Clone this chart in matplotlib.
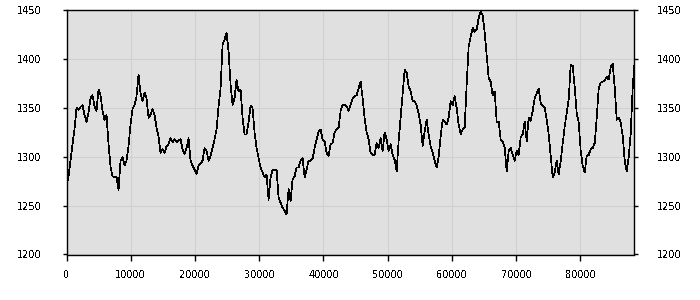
import numpy as np
import matplotlib
matplotlib.use("Agg")
import matplotlib.pyplot as plt

# sample spacing along the x axis (data units)
STEP = 311.5

values = [
    1269, 1280, 1296, 1313, 1328, 1350, 1348, 1351, 1353, 1343,
    1336, 1345, 1360, 1363, 1352, 1347, 1369, 1363, 1347, 1338,
    1343, 1313, 1290, 1280, 1279, 1280, 1266, 1296, 1300, 1291,
    1296, 1311, 1333, 1349, 1353, 1362, 1384, 1365, 1357, 1366,
    1360, 1340, 1343, 1349, 1343, 1330, 1321, 1304, 1308, 1304,
    1311, 1313, 1319, 1315, 1318, 1315, 1317, 1318, 1308, 1303,
    1309, 1319, 1296, 1291, 1287, 1282, 1291, 1293, 1296, 1309,
    1306, 1296,
    1301, 1309, 1318, 1328, 1352, 1370, 1415, 1420, 1427, 1408,
    1374, 1353, 1360, 1379, 1367, 1369, 1340, 1323, 1323, 1336,
    1352, 1350, 1325, 1309, 1299, 1289, 1284, 1279, 1282, 1256,
    1279, 1287, 1286, 1287, 1258, 1253, 1248, 1245, 1241, 1267,
    1255, 1277, 1280, 1289, 1289, 1296, 1299, 1279, 1287, 1296,
    1296, 1298, 1309, 1318, 1326, 1328, 1318, 1316, 1304, 1301,
    1313, 1314, 1325, 1328, 1330, 1347, 1353, 1353, 1352, 1347,
    1353, 1360, 1362, 1363, 1370, 1377, 1360, 1340, 1325, 1318,
    1304, 1302, 1302, 1314, 1309, 1319, 1306, 1325, 1318, 1306,
    1313, 1302, 1297, 1285, 1316, 1340, 1364, 1389, 1386, 1372,
    1367, 1357, 1357, 1353, 1344, 1333, 1311, 1326, 1338, 1323,
    1311, 1304, 1296, 1289, 1300, 1321, 1338, 1336, 1333, 1340,
    1357, 1353, 1362, 1350, 1333, 1323, 1328, 1330, 1374, 1413,
    1423, 1432, 1428, 1430, 1442, 1449, 1445, 1427, 1404, 1381,
    1377, 1363, 1367, 1336, 1336, 1318, 1316, 1309, 1285, 1306,
    1309, 1302, 1296, 1306, 1302, 1320, 1323, 1336, 1316, 1340,
    1337, 1347, 1360, 1365, 1370, 1355, 1352, 1350, 1338, 1323,
    1301, 1279, 1284, 1296, 1282, 1296, 1314, 1331, 1345, 1359,
    1394, 1393, 1371, 1345, 1335, 1306, 1291, 1284, 1301, 1302,
    1308, 1309, 1314, 1340, 1370, 1376, 1377, 1378, 1382, 1379,
    1392, 1395, 1371, 1338, 1340, 1335, 1321, 1296, 1285, 1300,
    1324, 1372, 1398,
]

x_ticks = [0, 10000, 20000, 30000, 40000, 50000, 60000, 70000, 80000]
y_ticks = [1200, 1250, 1300, 1350, 1400, 1450]
x_max = 88400

x = np.arange(len(values)) * STEP

plt.rcParams['font.family'] = ['DejaVu Sans']
plt.rcParams['text.antialiased'] = False
fig = plt.figure(figsize=(7, 3), dpi=100)
ax = fig.add_axes([66.5 / 700, 45.5 / 300, (634.3 - 66.5) / 700, (254.5 - 10.3) / 300])
ax.set_facecolor('#e0e0e0')
ax.plot(x, values, color='black', lw=0.5, antialiased=False)
ax.set_xlim(0, x_max)
ax.set_ylim(1200, 1450)
ax.set_xticks(x_ticks)
ax.set_yticks(y_ticks)
ax.set_xticklabels([str(t) for t in x_ticks])
ax.set_yticklabels([str(t) for t in y_ticks])
ax.grid(True, color='#d0d0d0', lw=0.8)
ax.set_axisbelow(True)
for s in ax.spines.values():
    s.set_color('black')
    s.set_linewidth(1)
ax.tick_params(axis='x', direction='out', length=4, width=1, pad=7, labelsize=7)
ax.tick_params(axis='y', direction='out', length=3, width=1, pad=15, labelsize=7)

ax2 = ax.twinx()
ax2.set_ylim(1200, 1450)
ax2.set_yticks(y_ticks)
ax2.set_yticklabels([str(t) for t in y_ticks])
ax2.tick_params(axis='y', direction='out', length=3, width=1, pad=13, labelsize=7)
for s in ax2.spines.values():
    s.set_visible(False)

fig.savefig('out.png', dpi=100)
